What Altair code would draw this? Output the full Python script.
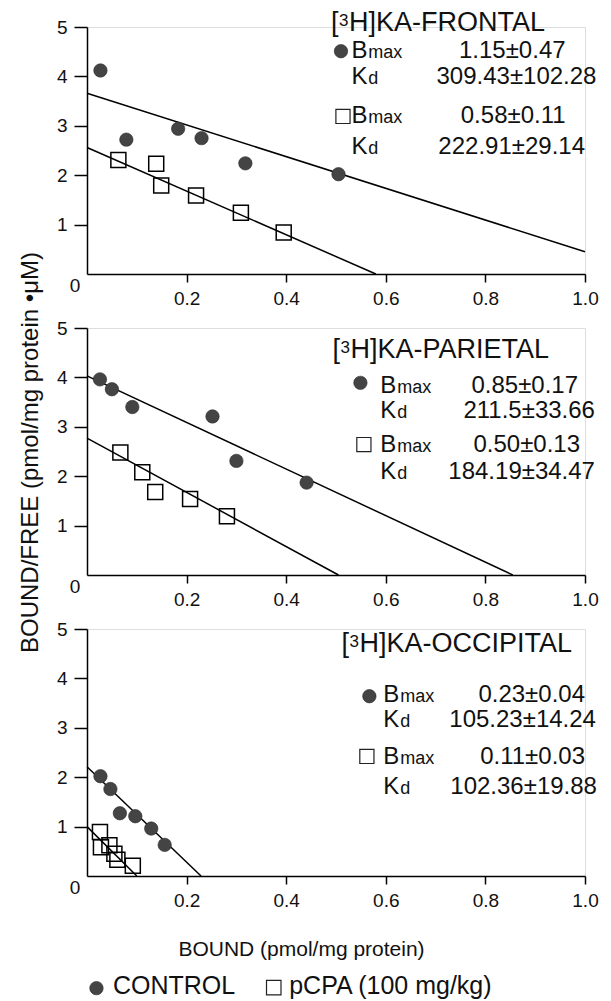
import altair as alt
import pandas as pd

FONT = "Liberation Sans"

# ---------------- data ----------------
regions = ["FRONTAL", "PARIETAL", "OCCIPITAL"]

frontal_ctrl_x = [0.027, 0.079, 0.183, 0.230, 0.318, 0.505]
frontal_ctrl_y = [4.12, 2.72, 2.94, 2.75, 2.24, 2.02]
frontal_pcpa_x = [0.063, 0.139, 0.149, 0.219, 0.309, 0.395]
frontal_pcpa_y = [2.31, 2.23, 1.79, 1.59, 1.24, 0.84]

parietal_ctrl_x = [0.026, 0.050, 0.091, 0.252, 0.300, 0.441]
parietal_ctrl_y = [3.96, 3.76, 3.40, 3.21, 2.31, 1.87]
parietal_pcpa_x = [0.067, 0.111, 0.137, 0.207, 0.281]
parietal_pcpa_y = [2.48, 2.08, 1.68, 1.54, 1.19]

occipital_ctrl_x = [0.027, 0.047, 0.066, 0.097, 0.129, 0.156]
occipital_ctrl_y = [2.02, 1.76, 1.27, 1.21, 0.96, 0.63]
occipital_pcpa_x = [0.026, 0.028, 0.045, 0.055, 0.061, 0.092]
occipital_pcpa_y = [0.89, 0.58, 0.62, 0.45, 0.33, 0.21]

# fitted Scatchard lines (end points)
frontal_ctrl_line_x = [0.0, 1.0]
frontal_ctrl_line_y = [3.66, 0.45]
frontal_pcpa_line_x = [0.0, 0.58]
frontal_pcpa_line_y = [2.56, 0.0]
parietal_ctrl_line_x = [0.0, 0.855]
parietal_ctrl_line_y = [4.03, 0.0]
parietal_pcpa_line_x = [0.0, 0.505]
parietal_pcpa_line_y = [2.77, 0.0]
occipital_ctrl_line_x = [0.0, 0.229]
occipital_ctrl_line_y = [2.21, 0.0]
occipital_pcpa_line_x = [0.0, 0.10]
occipital_pcpa_line_y = [1.0, 0.0]

bmax_ctrl = ["1.15\u00b10.47", "0.85\u00b10.17", "0.23\u00b10.04"]
kd_ctrl = ["309.43\u00b1102.28", "211.5\u00b133.66", "105.23\u00b114.24"]
bmax_pcpa = ["0.58\u00b10.11", "0.50\u00b10.13", "0.11\u00b10.03"]
kd_pcpa = ["222.91\u00b129.14", "184.19\u00b134.47", "102.36\u00b119.88"]

x_ticks = [0.2, 0.4, 0.6, 0.8, 1.0]
y_ticks = [1, 2, 3, 4, 5]

x_title = "BOUND (pmol/mg protein)"
y_title = "BOUND/FREE (pmol/mg protein \u2022\u03bcM)"
legend_labels = ["CONTROL", "pCPA (100 mg/kg)"]

pts_data = {
    "FRONTAL": (frontal_ctrl_x, frontal_ctrl_y, frontal_pcpa_x, frontal_pcpa_y),
    "PARIETAL": (parietal_ctrl_x, parietal_ctrl_y, parietal_pcpa_x, parietal_pcpa_y),
    "OCCIPITAL": (occipital_ctrl_x, occipital_ctrl_y, occipital_pcpa_x, occipital_pcpa_y),
}
line_data = {
    "FRONTAL": (frontal_ctrl_line_x, frontal_ctrl_line_y, frontal_pcpa_line_x, frontal_pcpa_line_y),
    "PARIETAL": (parietal_ctrl_line_x, parietal_ctrl_line_y, parietal_pcpa_line_x, parietal_pcpa_line_y),
    "OCCIPITAL": (occipital_ctrl_line_x, occipital_ctrl_line_y, occipital_pcpa_line_x, occipital_pcpa_line_y),
}

# ---------------- layout of annotations (data units) ----------------
layout = {
    "FRONTAL": dict(tx=0.49, ty=4.92, c=(0.51, 4.51), s=(0.514, 3.19), lx=0.531,
                    yB1=4.37, yK1=3.84, yB2=3.05, yK2=2.42,
                    rB1=0.961, rK1=1.023, rB2=0.961, rK2=1.0),
    "PARIETAL": dict(tx=0.493, ty=4.39, c=(0.549, 3.89), s=(0.556, 2.64), lx=0.589,
                     yB1=3.68, yK1=3.17, yB2=2.50, yK2=1.95,
                     rB1=0.986, rK1=1.02, rB2=0.99, rK2=1.02),
    "OCCIPITAL": dict(tx=0.511, ty=4.53, c=(0.567, 3.64), s=(0.562, 2.42), lx=0.595,
                      yB1=3.52, yK1=3.01, yB2=2.26, yK2=1.65,
                      rB1=1.0, rK1=1.022, rB2=1.0, rK2=1.024),
}

W, H = 498, 247
T_BIG, T_SUP = 27, 17
L_BIG, L_SUB = 24, 18
V_SIZE = 24
PX = 1.0 / 500  # data units per px horizontally

xs = alt.Scale(domain=[0, 1], nice=False, zero=False)
ys = alt.Scale(domain=[0, 5], nice=False, zero=False)


def make_panel(i, name):
    L = layout[name]
    last = i == 2
    xaxis = alt.Axis(values=x_ticks, format=".1f", tickSize=8, labelPadding=7,
                     labelFontSize=19, labelFont=FONT, domainWidth=1.5, tickWidth=1.5,
                     domainColor="black", tickColor="black", labelColor="#111",
                     grid=False, labelFlush=False,
                     title=x_title if last else None,
                     **(dict(titleFontSize=21, titleFont=FONT, titleFontWeight="normal",
                             titleX=214, titleY=79, titleBaseline="alphabetic",
                             titleAlign="center", titleColor="#111") if last else {}))
    yaxis = alt.Axis(values=y_ticks, format="d", tickSize=13, labelPadding=7,
                     labelFontSize=19, labelFont=FONT, domainWidth=1.5, tickWidth=1.5,
                     domainColor="black", tickColor="black", labelColor="#111",
                     grid=False,
                     title=y_title if i == 1 else None,
                     **(dict(titleFontSize=24, titleFont=FONT, titleFontWeight="normal",
                             titleX=-50, titleY=124, titleBaseline="alphabetic",
                             titleAlign="center", titleColor="#111") if i == 1 else {}))
    X = alt.X("x:Q", scale=xs, axis=xaxis)
    Y = alt.Y("y:Q", scale=ys, axis=yaxis)

    cx, cy, px_, py_ = pts_data[name]
    ctrl = pd.DataFrame({"x": cx, "y": cy})
    pcpa = pd.DataFrame({"x": px_, "y": py_})
    lcx, lcy, lpx, lpy = line_data[name]
    lines = pd.DataFrame({"x": lcx + lpx, "y": lcy + lpy,
                          "g": ["c"] * len(lcx) + ["p"] * len(lpx)})

    line_layer = alt.Chart(lines).mark_line(color="black", strokeWidth=1.5).encode(
        x=X, y=Y, detail="g:N")
    sq_layer = alt.Chart(pcpa).mark_point(shape="square", filled=False, size=225,
                                          stroke="black", strokeWidth=1.5, opacity=1).encode(x=X, y=Y)
    c_layer = alt.Chart(ctrl).mark_point(shape="circle", filled=True, size=180,
                                         fill="#444444", stroke="#2a2a2a", strokeWidth=0.6,
                                         opacity=1).encode(x=X, y=Y)

    # annotation text
    left_rows = [
        ("[", L["tx"], L["ty"], T_BIG),
        ("3", L["tx"] + 8 * PX, L["ty"] + 0.11, T_SUP),
        ("H]KA-" + name, L["tx"] + 18 * PX, L["ty"], T_BIG),
        ("B", L["lx"], L["yB1"], L_BIG),
        ("max", L["lx"] + 17 * PX, L["yB1"], L_SUB),
        ("K", L["lx"], L["yK1"], L_BIG),
        ("d", L["lx"] + 17 * PX, L["yK1"], L_SUB),
        ("B", L["lx"], L["yB2"], L_BIG),
        ("max", L["lx"] + 17 * PX, L["yB2"], L_SUB),
        ("K", L["lx"], L["yK2"], L_BIG),
        ("d", L["lx"] + 17 * PX, L["yK2"], L_SUB),
    ]
    right_rows = [
        (bmax_ctrl[i], L["rB1"], L["yB1"], V_SIZE),
        (kd_ctrl[i], L["rK1"], L["yK1"], V_SIZE),
        (bmax_pcpa[i], L["rB2"], L["yB2"], V_SIZE),
        (kd_pcpa[i], L["rK2"], L["yK2"], V_SIZE),
    ]
    cols = ["t", "x", "y", "fs"]
    left_df = pd.DataFrame(left_rows, columns=cols)
    right_df = pd.DataFrame(right_rows, columns=cols)
    tl = alt.Chart(left_df).mark_text(align="left", baseline="alphabetic", font=FONT,
                                      color="#111").encode(
        x=X, y=Y, text="t:N", size=alt.Size("fs:Q", scale=None, legend=None))
    tr = alt.Chart(right_df).mark_text(align="right", baseline="alphabetic", font=FONT,
                                       color="#111").encode(
        x=X, y=Y, text="t:N", size=alt.Size("fs:Q", scale=None, legend=None))

    sym_c = alt.Chart(pd.DataFrame({"x": [L["c"][0]], "y": [L["c"][1]]})).mark_point(
        shape="circle", filled=True, size=180, fill="#444444", stroke="#2a2a2a",
        strokeWidth=0.6, opacity=1).encode(x=X, y=Y)
    sym_s = alt.Chart(pd.DataFrame({"x": [L["s"][0]], "y": [L["s"][1]]})).mark_point(
        shape="square", filled=False, size=200, stroke="#222", strokeWidth=1.2,
        opacity=1).encode(x=X, y=Y)

    zero = alt.Chart(pd.DataFrame({"x": [0.0], "y": [0.0], "t": ["0"]})).mark_text(
        align="center", baseline="middle", dx=-12, dy=12, fontSize=19, font=FONT,
        color="#111").encode(x=X, y=Y, text="t:N")

    layers = [line_layer, sq_layer, c_layer, sym_c, sym_s, tl, tr, zero]

    if last:
        leg_txt = pd.DataFrame({"t": legend_labels, "x": [0.052, 0.406], "y": [-2.39, -2.39]})
        lt = alt.Chart(leg_txt).mark_text(align="left", baseline="alphabetic", font=FONT,
                                          fontSize=25, color="#111").encode(x=X, y=Y, text="t:N")
        lc = alt.Chart(pd.DataFrame({"x": [0.019], "y": [-2.27]})).mark_point(
            shape="circle", filled=True, size=180, fill="#444444", stroke="#2a2a2a",
            strokeWidth=0.6, opacity=1).encode(x=X, y=Y)
        ls = alt.Chart(pd.DataFrame({"x": [0.375], "y": [-2.26]})).mark_point(
            shape="square", filled=False, size=210, stroke="#222", strokeWidth=1.2,
            opacity=1).encode(x=X, y=Y)
        layers += [lt, lc, ls]

    return alt.layer(*layers).properties(width=W, height=H)


panels = [make_panel(i, n) for i, n in enumerate(regions)]

chart = alt.vconcat(*panels, spacing=54, bounds="flush").properties(
    padding={"left": 9, "top": 0, "right": 0, "bottom": 0}
).configure_view(stroke=None).configure(font=FONT)

chart.save("out.html", embed_options={"renderer": "svg", "actions": False})
